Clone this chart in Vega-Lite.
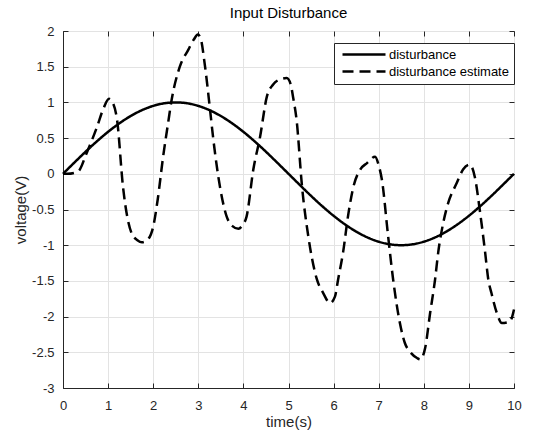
{
  "$schema": "https://vega.github.io/schema/vega-lite/v6.json",
  "autosize": {"type": "none"},
  "width": 451,
  "height": 357,
  "padding": {"left": 63, "top": 31, "right": 19, "bottom": 47},
  "background": "white",
  "title": {"text": "Input Disturbance", "fontSize": 15, "fontWeight": "normal", "font": "Liberation Sans", "color": "#000000", "offset": 4},
  "config": {
    "view": {"stroke": "#262626", "strokeWidth": 1},
    "axis": {"labelFont": "Liberation Sans", "titleFont": "Liberation Sans", "labelFontSize": 13, "titleFontSize": 15, "labelColor": "#262626", "titleColor": "#262626", "titleFontWeight": "normal", "domainColor": "#262626", "tickColor": "#262626", "gridColor": "#e3e3e3", "gridOpacity": 1, "tickSize": -5, "labelFlush": false, "labelOverlap": false, "labelExpr": "'' + datum.value"}
  },
  "data": {"values": [
    {"t": 0, "v": 0, "s": "disturbance"},
    {"t": 0.25, "v": 0.156, "s": "disturbance"},
    {"t": 0.5, "v": 0.309, "s": "disturbance"},
    {"t": 0.75, "v": 0.454, "s": "disturbance"},
    {"t": 1, "v": 0.588, "s": "disturbance"},
    {"t": 1.25, "v": 0.707, "s": "disturbance"},
    {"t": 1.5, "v": 0.809, "s": "disturbance"},
    {"t": 1.75, "v": 0.891, "s": "disturbance"},
    {"t": 2, "v": 0.951, "s": "disturbance"},
    {"t": 2.25, "v": 0.988, "s": "disturbance"},
    {"t": 2.5, "v": 1, "s": "disturbance"},
    {"t": 2.75, "v": 0.988, "s": "disturbance"},
    {"t": 3, "v": 0.951, "s": "disturbance"},
    {"t": 3.25, "v": 0.891, "s": "disturbance"},
    {"t": 3.5, "v": 0.809, "s": "disturbance"},
    {"t": 3.75, "v": 0.707, "s": "disturbance"},
    {"t": 4, "v": 0.588, "s": "disturbance"},
    {"t": 4.25, "v": 0.454, "s": "disturbance"},
    {"t": 4.5, "v": 0.309, "s": "disturbance"},
    {"t": 4.75, "v": 0.156, "s": "disturbance"},
    {"t": 5, "v": 0, "s": "disturbance"},
    {"t": 5.25, "v": -0.156, "s": "disturbance"},
    {"t": 5.5, "v": -0.309, "s": "disturbance"},
    {"t": 5.75, "v": -0.454, "s": "disturbance"},
    {"t": 6, "v": -0.588, "s": "disturbance"},
    {"t": 6.25, "v": -0.707, "s": "disturbance"},
    {"t": 6.5, "v": -0.809, "s": "disturbance"},
    {"t": 6.75, "v": -0.891, "s": "disturbance"},
    {"t": 7, "v": -0.951, "s": "disturbance"},
    {"t": 7.25, "v": -0.988, "s": "disturbance"},
    {"t": 7.5, "v": -1, "s": "disturbance"},
    {"t": 7.75, "v": -0.988, "s": "disturbance"},
    {"t": 8, "v": -0.951, "s": "disturbance"},
    {"t": 8.25, "v": -0.891, "s": "disturbance"},
    {"t": 8.5, "v": -0.809, "s": "disturbance"},
    {"t": 8.75, "v": -0.707, "s": "disturbance"},
    {"t": 9, "v": -0.588, "s": "disturbance"},
    {"t": 9.25, "v": -0.454, "s": "disturbance"},
    {"t": 9.5, "v": -0.309, "s": "disturbance"},
    {"t": 9.75, "v": -0.156, "s": "disturbance"},
    {"t": 10, "v": 0, "s": "disturbance"},
    {"t": 0, "v": 0, "s": "disturbance estimate"},
    {"t": 0.1, "v": 0, "s": "disturbance estimate"},
    {"t": 0.33, "v": 0.03, "s": "disturbance estimate"},
    {"t": 0.53, "v": 0.3, "s": "disturbance estimate"},
    {"t": 0.75, "v": 0.65, "s": "disturbance estimate"},
    {"t": 0.9, "v": 0.92, "s": "disturbance estimate"},
    {"t": 1.02, "v": 1.05, "s": "disturbance estimate"},
    {"t": 1.1, "v": 1.0, "s": "disturbance estimate"},
    {"t": 1.2, "v": 0.75, "s": "disturbance estimate"},
    {"t": 1.33, "v": -0.18, "s": "disturbance estimate"},
    {"t": 1.52, "v": -0.83, "s": "disturbance estimate"},
    {"t": 1.65, "v": -0.93, "s": "disturbance estimate"},
    {"t": 1.75, "v": -0.96, "s": "disturbance estimate"},
    {"t": 1.88, "v": -0.92, "s": "disturbance estimate"},
    {"t": 2.0, "v": -0.74, "s": "disturbance estimate"},
    {"t": 2.1, "v": -0.36, "s": "disturbance estimate"},
    {"t": 2.22, "v": 0.24, "s": "disturbance estimate"},
    {"t": 2.33, "v": 0.71, "s": "disturbance estimate"},
    {"t": 2.41, "v": 1.04, "s": "disturbance estimate"},
    {"t": 2.59, "v": 1.5, "s": "disturbance estimate"},
    {"t": 2.78, "v": 1.74, "s": "disturbance estimate"},
    {"t": 2.9, "v": 1.88, "s": "disturbance estimate"},
    {"t": 2.99, "v": 1.95, "s": "disturbance estimate"},
    {"t": 3.05, "v": 1.9, "s": "disturbance estimate"},
    {"t": 3.15, "v": 1.5, "s": "disturbance estimate"},
    {"t": 3.26, "v": 0.9, "s": "disturbance estimate"},
    {"t": 3.33, "v": 0.5, "s": "disturbance estimate"},
    {"t": 3.48, "v": -0.18, "s": "disturbance estimate"},
    {"t": 3.63, "v": -0.6, "s": "disturbance estimate"},
    {"t": 3.75, "v": -0.73, "s": "disturbance estimate"},
    {"t": 3.89, "v": -0.77, "s": "disturbance estimate"},
    {"t": 3.98, "v": -0.72, "s": "disturbance estimate"},
    {"t": 4.07, "v": -0.6, "s": "disturbance estimate"},
    {"t": 4.22, "v": 0.06, "s": "disturbance estimate"},
    {"t": 4.37, "v": 0.52, "s": "disturbance estimate"},
    {"t": 4.52, "v": 1.08, "s": "disturbance estimate"},
    {"t": 4.66, "v": 1.25, "s": "disturbance estimate"},
    {"t": 4.85, "v": 1.33, "s": "disturbance estimate"},
    {"t": 4.96, "v": 1.34, "s": "disturbance estimate"},
    {"t": 5.05, "v": 1.25, "s": "disturbance estimate"},
    {"t": 5.1, "v": 1.08, "s": "disturbance estimate"},
    {"t": 5.18, "v": 0.75, "s": "disturbance estimate"},
    {"t": 5.3, "v": -0.18, "s": "disturbance estimate"},
    {"t": 5.44, "v": -0.88, "s": "disturbance estimate"},
    {"t": 5.63, "v": -1.48, "s": "disturbance estimate"},
    {"t": 5.77, "v": -1.67, "s": "disturbance estimate"},
    {"t": 5.92, "v": -1.81, "s": "disturbance estimate"},
    {"t": 6.03, "v": -1.72, "s": "disturbance estimate"},
    {"t": 6.1, "v": -1.48, "s": "disturbance estimate"},
    {"t": 6.21, "v": -1.1, "s": "disturbance estimate"},
    {"t": 6.33, "v": -0.55, "s": "disturbance estimate"},
    {"t": 6.44, "v": -0.18, "s": "disturbance estimate"},
    {"t": 6.59, "v": 0.06, "s": "disturbance estimate"},
    {"t": 6.74, "v": 0.15, "s": "disturbance estimate"},
    {"t": 6.92, "v": 0.24, "s": "disturbance estimate"},
    {"t": 7.0, "v": 0.12, "s": "disturbance estimate"},
    {"t": 7.07, "v": -0.08, "s": "disturbance estimate"},
    {"t": 7.21, "v": -0.88, "s": "disturbance estimate"},
    {"t": 7.32, "v": -1.48, "s": "disturbance estimate"},
    {"t": 7.47, "v": -2.09, "s": "disturbance estimate"},
    {"t": 7.58, "v": -2.37, "s": "disturbance estimate"},
    {"t": 7.69, "v": -2.49, "s": "disturbance estimate"},
    {"t": 7.85, "v": -2.58, "s": "disturbance estimate"},
    {"t": 7.92, "v": -2.6, "s": "disturbance estimate"},
    {"t": 8.03, "v": -2.44, "s": "disturbance estimate"},
    {"t": 8.14, "v": -1.95, "s": "disturbance estimate"},
    {"t": 8.25, "v": -1.48, "s": "disturbance estimate"},
    {"t": 8.32, "v": -1.1, "s": "disturbance estimate"},
    {"t": 8.43, "v": -0.69, "s": "disturbance estimate"},
    {"t": 8.54, "v": -0.41, "s": "disturbance estimate"},
    {"t": 8.73, "v": -0.13, "s": "disturbance estimate"},
    {"t": 8.87, "v": 0.06, "s": "disturbance estimate"},
    {"t": 9.02, "v": 0.13, "s": "disturbance estimate"},
    {"t": 9.13, "v": -0.04, "s": "disturbance estimate"},
    {"t": 9.25, "v": -0.55, "s": "disturbance estimate"},
    {"t": 9.36, "v": -1.1, "s": "disturbance estimate"},
    {"t": 9.43, "v": -1.48, "s": "disturbance estimate"},
    {"t": 9.5, "v": -1.67, "s": "disturbance estimate"},
    {"t": 9.62, "v": -1.95, "s": "disturbance estimate"},
    {"t": 9.73, "v": -2.09, "s": "disturbance estimate"},
    {"t": 9.91, "v": -2.07, "s": "disturbance estimate"},
    {"t": 10, "v": -1.9, "s": "disturbance estimate"}
  ]},
  "resolve": {"axis": {"x": "independent", "y": "independent"}},
  "layer": [
    {
      "mark": {"type": "line", "color": "#000000", "strokeWidth": 2.5, "interpolate": "monotone"},
      "encoding": {
        "x": {"field": "t", "type": "quantitative", "scale": {"domain": [0, 10], "nice": false}, "axis": {"orient": "bottom", "title": "time(s)", "values": [0,1,2,3,4,5,6,7,8,9,10], "grid": true, "labelPadding": 16, "titlePadding": 2}},
        "y": {"field": "v", "type": "quantitative", "scale": {"domain": [-3, 2], "nice": false}, "axis": {"orient": "left", "title": "voltage(V)", "values": [-3,-2.5,-2,-1.5,-1,-0.5,0,0.5,1,1.5,2], "grid": true, "labelPadding": 14, "titlePadding": 3}},
        "strokeDash": {"field": "s", "type": "nominal", "scale": {"domain": ["disturbance", "disturbance estimate"], "range": [[1, 0], [11, 6]]},
          "legend": {"orient": "none", "legendX": 271, "legendY": 12, "title": null, "strokeColor": "#262626", "fillColor": "white", "padding": 5, "symbolType": "M-0.6,0H8", "symbolStrokeColor": "#000000", "symbolStrokeWidth": 2.5, "symbolSize": 100, "labelOffset": 37, "labelFont": "Liberation Sans", "labelFontSize": 13, "labelColor": "#000000", "rowPadding": 3}}
      }
    },
    {
      "mark": {"type": "line", "opacity": 0},
      "encoding": {
        "x": {"field": "t", "type": "quantitative", "axis": {"orient": "top", "title": null, "labels": false, "domain": false, "values": [0,1,2,3,4,5,6,7,8,9,10], "grid": false}},
        "y": {"field": "v", "type": "quantitative", "axis": {"orient": "right", "title": null, "labels": false, "domain": false, "values": [-3,-2.5,-2,-1.5,-1,-0.5,0,0.5,1,1.5,2], "grid": false}}
      }
    }
  ]
}
